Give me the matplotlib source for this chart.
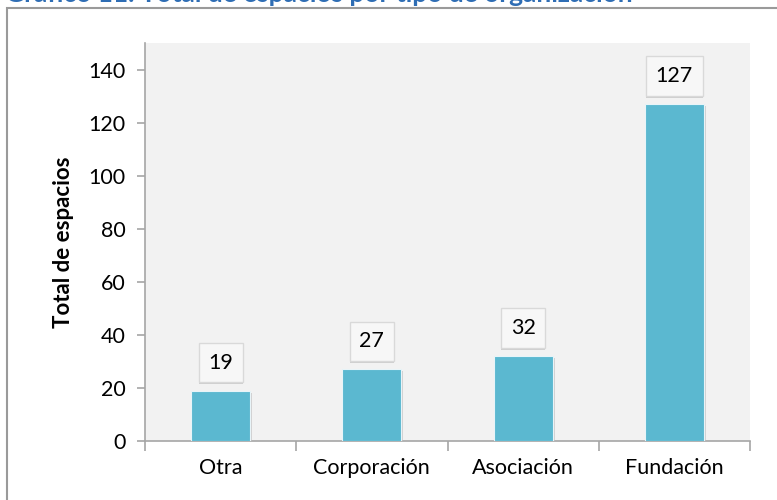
import matplotlib.pyplot as plt
from matplotlib.patches import Rectangle
import matplotlib.patheffects as pe

categorias = ['Otra', 'Corporación', 'Asociación', 'Fundación']
totales = [19, 27, 32, 127]
yticks = [0, 20, 40, 60, 80, 100, 120, 140]

plt.rcParams['font.family'] = ['Lato', 'DejaVu Sans']

fig = plt.figure(figsize=(7.77, 5), dpi=100)
W, H = 777, 500

# marco exterior (recortado por el borde de la figura)
fig.patches.append(Rectangle((7 / W, -0.1), 1.0, 1 - 8 / H + 0.1, transform=fig.transFigure,
                             fill=False, edgecolor='#9a9a9a', linewidth=1.5))

# titulo cortado arriba, como en el original
fig.text(5 / W, 1 - 1.5 / H, 'Gráfico 11. Total de espacios por tipo de organización',
         color='#2E6DB4', fontsize=19, fontweight='bold', va='baseline', ha='left')

ax = fig.add_axes([145 / W, 1 - 441 / H, 605 / W, 398 / H])
ax.set_facecolor('#F2F2F2')

x = range(len(categorias))
bars = ax.bar(x, totales, width=0.39, color='#5BB8D0', edgecolor='#e8f4f8', linewidth=0.8, zorder=3)
for b in bars:
    b.set_path_effects([pe.SimplePatchShadow(offset=(1.5, -1.5), shadow_rgbFace='#bbbbbb', alpha=0.6), pe.Normal()])

ax.set_xlim(-0.5, 3.5)
ax.set_ylim(0, 150)
ax.set_yticks(yticks)
ax.set_yticklabels([str(t) for t in yticks], fontsize=15.5)
ax.set_xticks(list(x))
ax.set_xticklabels(categorias, fontsize=15.5)
ax.tick_params(axis='x', length=0, pad=12)
ax.tick_params(axis='y', length=6, width=1.2, color='#a6a6a6', pad=8)
# ticks del eje x en los limites de cada categoria
ax.set_xticks([-0.5, 0.5, 1.5, 2.5, 3.5], minor=True)
ax.tick_params(axis='x', which='minor', length=7, width=1.2, color='#a6a6a6')

for s in ['top', 'right']:
    ax.spines[s].set_visible(False)
for s in ['left', 'bottom']:
    ax.spines[s].set_color('#a6a6a6')
    ax.spines[s].set_linewidth(1.2)

ax.set_ylabel('Total de espacios', fontsize=16, fontweight='bold', labelpad=10)

for xi, v in zip(x, totales):
    t = ax.annotate(str(v), xy=(xi, v), xytext=(0, 28), textcoords='offset pixels',
                    ha='center', va='center', fontsize=15.5, zorder=5,
                    bbox=dict(boxstyle='square,pad=0.45', facecolor='#F7F7F7', edgecolor='#d9d9d9', linewidth=1))
    t.get_bbox_patch().set_path_effects([pe.SimplePatchShadow(offset=(0, -1.5), shadow_rgbFace='#999999', alpha=0.4), pe.Normal()])

fig.savefig('out.png', dpi=100)
